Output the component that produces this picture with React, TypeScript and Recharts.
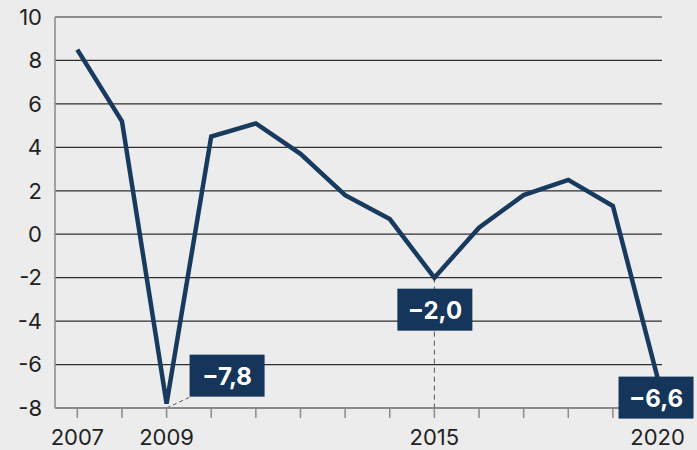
import React from "react";
import {
  LineChart,
  Line,
  XAxis,
  YAxis,
  CartesianGrid,
  ReferenceLine,
  LabelList,
} from "recharts";

const years = [2007, 2008, 2009, 2010, 2011, 2012, 2013, 2014, 2015, 2016, 2017, 2018, 2019, 2020];
const growth = [8.5, 5.2, -7.8, 4.5, 5.1, 3.7, 1.8, 0.7, -2.0, 0.3, 1.8, 2.5, 1.3, -6.6];
const yTicks = [-8, -6, -4, -2, 0, 2, 4, 6, 8, 10];
const labeledYears = [2007, 2009, 2015, 2020];
const annotatedYears = [2009, 2015, 2020];

const NAVY = "#173a5e";
const BOX = "#15365a";

const data = years.map((year, i) => ({ year, value: growth[i] }));

const fmt = (v: number) =>
  (v < 0 ? "\u2212" : "") + Math.abs(v).toFixed(1).replace(".", ",");

// box placement relative to the point, per annotated year
const boxOffset: { [k: number]: { dx: number; dy: number } } = {
  2009: { dx: 23, dy: -49 },
  2015: { dx: -37, dy: 11 },
  2020: { dx: -39, dy: -1 },
};

const Callout = (props: any) => {
  const { x, y, index } = props;
  const year = years[index];
  if (!annotatedYears.includes(year)) return null;
  const off = boxOffset[year];
  const w = 75;
  const h = 42;
  const bx = x + off.dx;
  const by = y + off.dy;
  return (
    <g>
      <rect x={bx} y={by} width={w} height={h} fill={BOX} />
      <text
        x={bx + w / 2}
        y={by + h / 2 + 1}
        textAnchor="middle"
        dominantBaseline="central"
        fill="#ffffff"
        fontSize={24}
        fontWeight={700}
        fontFamily="Inter, sans-serif"
      >
        {fmt(growth[index])}
      </text>
    </g>
  );
};

export default function App() {
  return (
    <div style={{ position: "absolute", left: 0, top: 0, width: 697, height: 450, background: "#ececec" }}>
      <LineChart
        width={697}
        height={450}
        data={data}
        margin={{ top: 17, right: 35, bottom: 0, left: 0 }}
      >
        <CartesianGrid horizontal vertical={false} stroke="#2e2e2e" strokeWidth={1.2} />
        <XAxis
          dataKey="year"
          type="number"
          domain={[2006.5, 2020.1]}
          ticks={years}
          tickFormatter={(v: number) => (labeledYears.includes(v) ? String(v) : "")}
          interval={0}
          height={42}
          tickSize={10}
          tickMargin={11}
          stroke="#8a8a8a"
          strokeWidth={1.5}
          tick={{ fill: "#222222", fontSize: 22, fontFamily: "Inter, sans-serif" }}
        />
        <YAxis
          domain={[-8, 10]}
          ticks={yTicks}
          interval={0}
          width={55}
          tickLine={false}
          tickSize={6}
          tickMargin={7}
          stroke="#8a8a8a"
          strokeWidth={1.5}
          tick={{ fill: "#222222", fontSize: 22, fontFamily: "Inter, sans-serif" }}
        />
        <ReferenceLine
          segment={[
            { x: 2015, y: -2 },
            { x: 2015, y: -8 },
          ]}
          stroke="#555555"
          strokeDasharray="5 4"
          strokeWidth={1}
        />
        <ReferenceLine
          segment={[
            { x: 2009, y: -8 },
            { x: 2009.52, y: -7.5 },
          ]}
          stroke="#555555"
          strokeDasharray="4 3"
          strokeWidth={1}
        />
        <Line
          type="linear"
          dataKey="value"
          stroke={NAVY}
          strokeWidth={4.5}
          dot={false}
          activeDot={false}
          isAnimationActive={false}
        >
          <LabelList dataKey="value" content={<Callout />} />
        </Line>
      </LineChart>
    </div>
  );
}
